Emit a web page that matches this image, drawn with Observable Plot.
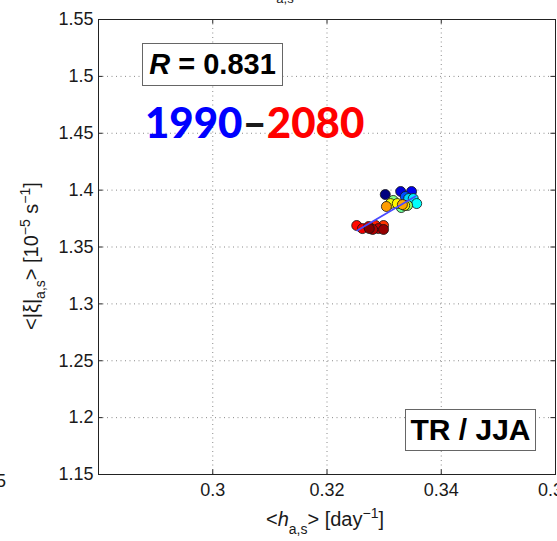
<!DOCTYPE html>
<html><head><meta charset="utf-8">
<script src="https://cdn.jsdelivr.net/npm/d3@7"></script>
<script src="https://cdn.jsdelivr.net/npm/@observablehq/plot@0.6"></script>
<style>
body{margin:0;background:#fff;}
#wrap{position:relative;width:557px;height:541px;overflow:hidden;font-family:"Liberation Sans",Arial,sans-serif;background:#fff;}
.box{position:absolute;border:1px solid #666;background:#fff;box-sizing:border-box;display:flex;align-items:center;justify-content:center;font-weight:bold;color:#000;white-space:nowrap;}
.period{position:absolute;font-family:Lato,"Open Sans",sans-serif;font-weight:900;white-space:nowrap;}
</style></head><body><div id="wrap"></div>
<script>
// ---- data ----
const years = [1990, 1998, 2000, 2008, 2020, 2022, 2024, 2033, 2035, 2037, 2045, 2047, 2048, 2054, 2055,
               2064, 2066, 2068, 2070, 2072, 2074, 2076, 2078, 2080];
const hValues = [0.3302, 0.3329, 0.3348, 0.3337, 0.3343, 0.3351, 0.3357, 0.3330, 0.3316, 0.3341, 0.3311, 0.3323, 0.3336, 0.3332, 0.3304,
                 0.3299, 0.3285, 0.3252, 0.3262, 0.3273, 0.3290, 0.3280, 0.3299, 0.3274];
const xiValues = [1.3961, 1.3988, 1.3988, 1.3944, 1.3926, 1.3926, 1.3882, 1.3847, 1.3909, 1.3865, 1.3882, 1.3882, 1.3865, 1.3873, 1.3856,
                  1.3689, 1.3689, 1.3689, 1.3662, 1.3680, 1.3662, 1.3654, 1.3654, 1.3662];
const fitH = [0.3253, 0.3355];
const fitXi = [1.3645, 1.3946];
const xTicks = [0.30, 0.32, 0.34, 0.36];
const xTickLabels = ["0.3", "0.32", "0.34", "0.36"];
const yTicks = [1.15, 1.2, 1.25, 1.3, 1.35, 1.4, 1.45, 1.5, 1.55];
const yTickLabels = ["1.15", "1.2", "1.25", "1.3", "1.35", "1.4", "1.45", "1.5", "1.55"];
const xDomain = [0.28, 0.36];
const yDomain = [1.15, 1.55];
const jetStops = [0, 0.125, 0.375, 0.625, 0.875, 1];
const jetColors = ["#00007f", "#0000ff", "#00ffff", "#ffff00", "#ff0000", "#7f0000"];
const yearRange = [1990, 2080];

const points = years.map((yr, i) => ({year: yr, h: hValues[i], xi: xiValues[i]}));
const fitLine = fitH.map((h, i) => ({h, xi: fitXi[i]}));
const gridX = xTicks.filter(d => d < xDomain[1]);
const gridY = yTicks.filter(d => d > yDomain[0] && d < yDomain[1]);
const tx = 0.0008, ty = 0.004;

const chart = Plot.plot({
  width: 557, height: 541,
  marginLeft: 98, marginRight: 2, marginTop: 19, marginBottom: 67,
  style: {fontSize: "18px", fontFamily: "'Liberation Sans', Arial, sans-serif", color: "#1a1a1a", background: "transparent", overflow: "visible"},
  x: {domain: xDomain},
  y: {domain: yDomain},
  color: {type: "linear", domain: jetStops.map(s => yearRange[0] + s * (yearRange[1] - yearRange[0])), range: jetColors},
  marks: [
    Plot.ruleX(gridX, {x: d => d, stroke: "#8a8a8a", strokeDasharray: "1,3.5", strokeWidth: 1}),
    Plot.ruleY(gridY, {y: d => d, stroke: "#8a8a8a", strokeDasharray: "1,3.5", strokeWidth: 1}),
    Plot.ruleX(xTicks, {x: d => d, y1: yDomain[0], y2: yDomain[0] + ty, stroke: "#222"}),
    Plot.ruleX(xTicks, {x: d => d, y1: yDomain[1] - ty, y2: yDomain[1], stroke: "#222"}),
    Plot.ruleY(yTicks, {y: d => d, x1: xDomain[0], x2: xDomain[0] + tx, stroke: "#222"}),
    Plot.ruleY(yTicks, {y: d => d, x1: xDomain[1] - tx, x2: xDomain[1], stroke: "#222"}),
    Plot.frame({stroke: "#222", strokeWidth: 1}),
    Plot.axisX({ticks: xTicks, tickSize: 0, tickPadding: 9, tickFormat: d => xTickLabels[xTicks.indexOf(d)], label: null}),
    Plot.axisY({ticks: yTicks, tickSize: 0, tickPadding: 5, tickFormat: d => yTickLabels[yTicks.indexOf(d)], label: null}),
    Plot.dot(points, {x: "h", y: "xi", fill: "year", r: 5, stroke: "#111", strokeWidth: 0.8}),
    Plot.line(fitLine, {x: "h", y: "xi", stroke: "#4a4aff", strokeWidth: 1.8})
  ]
});

const wrap = document.getElementById("wrap");
wrap.appendChild(chart);

// axis labels with sub/superscripts
const svg = d3.select(chart);
const fs = 20, fsSmall = 14;
const xl = svg.append("text").attr("x", 325).attr("y", 526).attr("text-anchor", "middle")
  .attr("font-size", fs).attr("fill", "#1a1a1a").attr("font-family", "'Liberation Sans', Arial, sans-serif");
xl.append("tspan").text("<");
xl.append("tspan").attr("font-style", "italic").text("h");
xl.append("tspan").attr("font-size", fsSmall).attr("dy", 8).text("a,s");
xl.append("tspan").attr("dy", -8).text("> [day");
xl.append("tspan").attr("font-size", fsSmall).attr("dy", -8).text("−1");
xl.append("tspan").attr("dy", 8).text("]");

const yl = svg.append("text").attr("transform", "translate(38,256) rotate(-90)").attr("text-anchor", "middle")
  .attr("font-size", fs).attr("fill", "#1a1a1a").attr("font-family", "'Liberation Sans', Arial, sans-serif");
yl.append("tspan").text("<|ξ|");
yl.append("tspan").attr("font-size", fsSmall).attr("dy", 7).text("a,s");
yl.append("tspan").attr("dy", -7).text("> [10");
yl.append("tspan").attr("font-size", fsSmall).attr("dy", -8).text("−5");
yl.append("tspan").attr("dy", 8).text(" s");
yl.append("tspan").attr("font-size", fsSmall).attr("dy", -8).text("−1");
yl.append("tspan").attr("dy", 8).text("]");

// fragments of neighbouring panels (cut off in the reference too)
svg.append("text").attr("x", 6).attr("y", 487).attr("text-anchor", "end").attr("font-size", 18).attr("fill", "#1a1a1a").text("5");
svg.append("text").attr("x", 285).attr("y", 3).attr("text-anchor", "middle").attr("font-size", 13).attr("fill", "#1a1a1a").text("a,s");

// annotation boxes
const rBox = document.createElement("div");
rBox.className = "box";
Object.assign(rBox.style, {left: "142px", top: "43px", width: "141px", height: "43px", fontSize: "29px"});
rBox.innerHTML = "<i>R</i>&nbsp;= 0.831";
wrap.appendChild(rBox);

const tBox = document.createElement("div");
tBox.className = "box";
Object.assign(tBox.style, {left: "405px", top: "409px", width: "131px", height: "42px", fontSize: "30px"});
tBox.textContent = "TR / JJA";
wrap.appendChild(tBox);

const per = document.createElement("div");
per.className = "period";
Object.assign(per.style, {left: "145px", top: "97px", fontSize: "42px", lineHeight: "50px"});
per.innerHTML = '<span style="color:#0000ff">1990</span><span style="color:#1a1a1a">–</span><span style="color:#ff0000">2080</span>';
wrap.appendChild(per);
</script></body></html>
